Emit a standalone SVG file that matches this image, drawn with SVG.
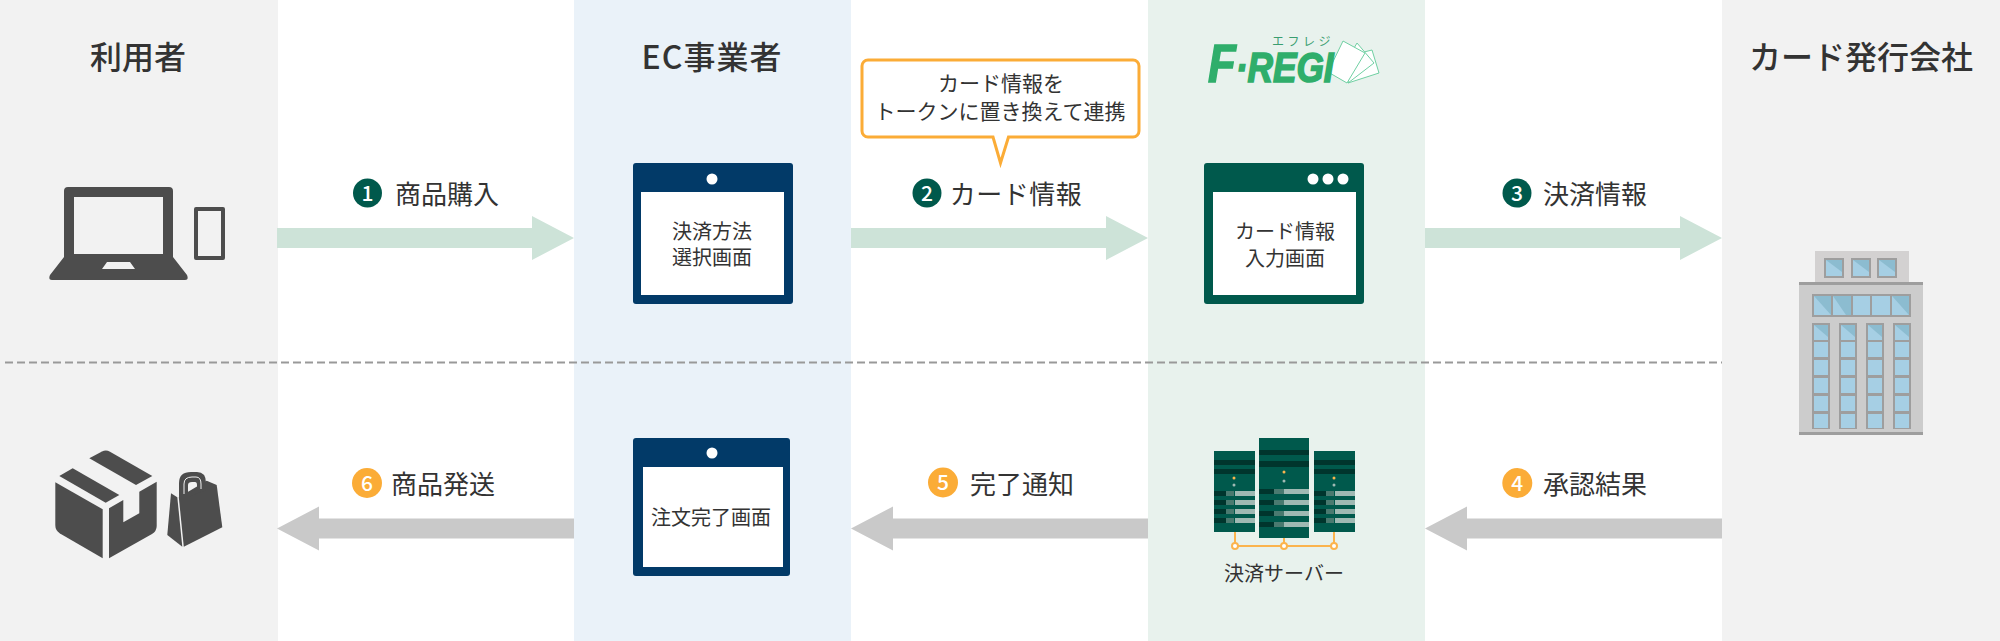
<svg xmlns="http://www.w3.org/2000/svg" width="2000" height="641" viewBox="0 0 2000 641">
<style>
text{font-family:"Noto Sans CJK JP","Noto Sans",sans-serif;fill:#333;text-anchor:middle}
.h{font-size:32px;font-weight:500}
.l{font-size:26px}
.s{font-size:20px}
.b{font-size:21px}
.n{font-size:21px;font-weight:500;fill:#fff}
.dk{fill:#4d4d4d}
.glass{fill:#a6cfe4}
.tint{fill:#8cbcd0}
.frame{fill:#9e9e9e}
.srv{fill:#00594c}
.d{fill:#00352d}
.m{fill:#4a7a70}
.li{fill:#9fb9b3}
.logo{font-family:"Liberation Sans",sans-serif;font-weight:700;font-style:italic;fill:#2fae6b;stroke:#2fae6b;stroke-width:1.600;text-anchor:start}
</style>
<defs>
<path id="ar" d="M0-10H255V-22L297 0 255 22V10H0Z"/>
</defs>
<g id="lanes">
<rect x="0" width="278" height="641" fill="#f2f2f2"/>
<rect x="574" width="277" height="641" fill="#eaf2f9"/>
<rect x="1148" width="277" height="641" fill="#e8f2ed"/>
<rect x="1722" width="278" height="641" fill="#f2f2f2"/>
<line x1="5" y1="362.500" x2="1722" y2="362.500" stroke="#999" stroke-width="2" stroke-dasharray="8 4"/>
</g>
<g id="connectors">
<g fill="#cde3d8">
<use href="#ar" x="277" y="238"/>
<use href="#ar" x="851" y="238"/>
<use href="#ar" x="1425" y="238"/>
</g>
<g fill="#c9c9c9">
<use href="#ar" transform="translate(574 528.500) scale(-1 1)"/>
<use href="#ar" transform="translate(1148 528.500) scale(-1 1)"/>
<use href="#ar" transform="translate(1722 528.500) scale(-1 1)"/>
</g>
</g>
<g id="user">
<text class="h" x="138" y="69">利用者</text>
<path class="dk" fill-rule="evenodd" d="M64 191a4 4 0 0 1 4-4H169a4 4 0 0 1 4 4V257L187 275q2 5-2 5H52q-4 0-2-5L64 257ZM74 197V254H163V197ZM107 262L102 269H135L130 262Z"/>
<path class="dk" fill-rule="evenodd" d="M194 209a2 2 0 0 1 2-2H223a2 2 0 0 1 2 2V258a2 2 0 0 1-2 2H196a2 2 0 0 1-2-2ZM198 211V256H221V211Z"/>
<g class="dk">
<path d="M89.300 458.300L102 451.500Q106 449.500 110 451.700L152.300 476 136 485Z"/>
<path d="M59.300 476L72.700 468.300 119.300 495 105.700 502.700Z"/>
<path d="M55.300 482.300L102.700 509.300V558.300L60 533.500Q55.300 530.500 55.300 525Z"/>
<path d="M109 508.300L123.300 500V522.300L139.300 513.300V491.700L156.700 481.700V526Q156.700 531 152 534L109 558.300Z"/>
<path d="M171 493.300L177.300 497.300 182.300 546.700 167.300 535Z"/>
<path d="M178.800 497.300L206.700 480.700 216.700 485 222.300 527.300 183.800 546.700Z"/>
<path fill-rule="evenodd" d="M179 497V483Q179 472 191 472H197Q206 472 206 483V490L188 497ZM188 493V485Q188 482 192 482H195Q197 482 197 485V489Z"/>
</g>
<path d="M184 494V484Q184 477 192 477H196Q201 477 201 484V489" fill="none" stroke="#f2f2f2" stroke-width="1"/>
</g>
<g id="ec">
<text class="h" x="712" y="69" style="letter-spacing:1px">EC事業者</text>
<rect x="633" y="163" width="160" height="141" rx="3" fill="#023a68"/>
<circle cx="712" cy="179" r="5.500" fill="#fff"/>
<rect x="641" y="192" width="143" height="103" fill="#fff"/>
<text class="s" x="712" y="239">決済方法</text>
<text class="s" x="712" y="265">選択画面</text>
<rect x="633" y="438" width="157" height="138" rx="3" fill="#023a68"/>
<circle cx="712" cy="453" r="5.500" fill="#fff"/>
<rect x="643" y="467" width="140" height="100" fill="#fff"/>
<text class="s" x="711" y="525">注文完了画面</text>
</g>
<g id="balloon">
<path d="M868 60H1133a6 6 0 0 1 6 6V131a6 6 0 0 1-6 6H1008.500L1000.500 163 993 137H868a6 6 0 0 1-6-6V66a6 6 0 0 1 6-6Z" fill="#fff" stroke="#fbac37" stroke-width="3"/>
<text class="b" x="1001" y="91">カード情報を</text>
<text class="b" x="1000" y="119">トークンに置き換えて連携</text>
</g>
<g id="fregi">
<g fill="#fff" stroke="#70d0a3" stroke-width="1">
<path d="M1360 53L1372 50 1379 73 1348 83Z"/>
<path d="M1350 55L1357 43 1374 63 1348 83Z"/>
<path d="M1343 41L1365 53 1347 83 1328 72Z"/>
</g>
<text class="logo" transform="translate(1208 82) scale(.84 1)"><tspan style="font-size:54px">F</tspan><tspan style="font-size:42px">·REGI</tspan></text>
<text x="1303" y="46" style="font-size:12px;letter-spacing:3.500px;fill:#3a9e70">エフレジ</text>
<rect x="1204" y="163" width="160" height="141" rx="3" fill="#00594c"/>
<circle cx="1313" cy="179" r="5.500" fill="#fff"/>
<circle cx="1328" cy="179" r="5.500" fill="#fff"/>
<circle cx="1343" cy="179" r="5.500" fill="#fff"/>
<rect x="1213" y="192" width="143" height="103" fill="#fff"/>
<text class="s" x="1285" y="239">カード情報</text>
<text class="s" x="1285" y="266">入力画面</text>
</g>
<g id="server">
<g fill="none" stroke="#fbb44e" stroke-width="2">
<path d="M1235 530V546H1334M1284 538V546M1334 530V546"/>
<circle cx="1235" cy="546" r="3" fill="#fff"/>
<circle cx="1284" cy="546" r="3" fill="#fff"/>
<circle cx="1334" cy="546" r="3" fill="#fff"/>
</g>
<rect class="srv" x="1214" y="451" width="41" height="81"/>
<rect class="srv" x="1259" y="438" width="50" height="100"/>
<rect class="srv" x="1314" y="451" width="41" height="81"/>
<g class="d">
<rect x="1214" y="460" width="41" height="5"/><rect x="1214" y="469" width="41" height="5"/>
<rect x="1259" y="450" width="50" height="5"/><rect x="1259" y="461" width="50" height="6"/>
<rect x="1314" y="460" width="41" height="5"/><rect x="1314" y="469" width="41" height="5"/>
</g>
<g id="srow">
<rect class="d" x="1214" y="491" width="12" height="5"/><rect class="m" x="1226" y="491" width="8" height="5"/><rect class="li" x="1235" y="491" width="20" height="5"/>
<rect class="d" x="1214" y="500" width="12" height="5"/><rect class="m" x="1226" y="500" width="8" height="5"/><rect class="li" x="1235" y="500" width="20" height="5"/>
<rect class="d" x="1214" y="509" width="12" height="5"/><rect class="m" x="1226" y="509" width="8" height="5"/><rect class="li" x="1235" y="509" width="20" height="5"/>
<rect class="d" x="1214" y="518" width="12" height="5"/><rect class="m" x="1226" y="518" width="8" height="5"/><rect class="li" x="1235" y="518" width="20" height="5"/>
</g>
<use href="#srow" x="100"/>
<g>
<rect class="d" x="1259" y="489" width="15" height="5"/><rect class="m" x="1274" y="489" width="10" height="5"/><rect class="li" x="1284" y="489" width="25" height="5"/>
<rect class="d" x="1259" y="500" width="15" height="5"/><rect class="m" x="1274" y="500" width="10" height="5"/><rect class="li" x="1284" y="500" width="25" height="5"/>
<rect class="d" x="1259" y="511" width="15" height="5"/><rect class="m" x="1274" y="511" width="10" height="5"/><rect class="li" x="1284" y="511" width="25" height="5"/>
<rect class="d" x="1259" y="522" width="15" height="5"/><rect class="m" x="1274" y="522" width="10" height="5"/><rect class="li" x="1284" y="522" width="25" height="5"/>
</g>
<g fill="#fbb44e"><circle cx="1234" cy="478" r="1.500"/><circle cx="1284" cy="472" r="1.500"/><circle cx="1334" cy="478" r="1.500"/></g>
<g fill="#9fb9b3"><circle cx="1234" cy="485" r="1.500"/><circle cx="1284" cy="481" r="1.500"/><circle cx="1334" cy="485" r="1.500"/></g>
<text class="s" x="1284" y="581">決済サーバー</text>
</g>
<g id="issuer">
<text class="h" x="1861" y="69">カード発行会社</text>
<rect x="1815" y="251" width="94" height="32" fill="#d3d1d1"/>
<rect x="1799" y="282" width="124" height="153" fill="#cccccc"/>
<rect class="frame" x="1799" y="282" width="124" height="3"/>
<rect class="frame" x="1799" y="432" width="124" height="3"/>
<g class="frame">
<rect x="1824" y="258" width="20" height="20"/><rect x="1851" y="258" width="20" height="20"/><rect x="1877" y="258" width="20" height="20"/>
<rect x="1812" y="294" width="99" height="23"/>
<rect x="1812" y="323" width="18" height="106"/><rect x="1839" y="323" width="18" height="106"/><rect x="1866" y="323" width="18" height="106"/><rect x="1893" y="323" width="18" height="106"/>
</g>
<g class="glass">
<rect x="1826" y="260" width="16" height="16"/><rect x="1853" y="260" width="16" height="16"/><rect x="1879" y="260" width="16" height="16"/>
<rect x="1814" y="296" width="17" height="19"/><rect x="1833" y="296" width="18" height="19"/><rect x="1853" y="296" width="17" height="19"/><rect x="1872" y="296" width="18" height="19"/><rect x="1892" y="296" width="17" height="19"/>
</g>
<g id="col" class="glass">
<rect x="1814" y="325" width="14" height="15"/><rect x="1814" y="342" width="14" height="15"/><rect x="1814" y="360" width="14" height="15"/><rect x="1814" y="378" width="14" height="15"/><rect x="1814" y="396" width="14" height="15"/><rect x="1814" y="414" width="14" height="14"/>
</g>
<use href="#col" x="27"/><use href="#col" x="54"/><use href="#col" x="81"/>
<g class="tint">
<path d="M1826 260H1842V272Z"/><path d="M1853 260H1869V272Z"/><path d="M1879 260H1895V272Z"/>
<path d="M1814 296H1831V315Z"/><path d="M1833 296H1851V315H1846Z"/><path d="M1892 296H1909V315Z"/>
<path d="M1814 325H1828V337Z"/><path d="M1841 325H1855V337Z"/><path d="M1868 325H1882V337Z"/><path d="M1895 325H1909V337Z"/>
</g>
</g>
<g id="labels">
<circle cx="367.500" cy="193" r="14.500" fill="#00594c"/><text class="n" x="367.500" y="200.500">1</text>
<text class="l" x="447" y="204">商品購入</text>
<circle cx="927" cy="193" r="14.500" fill="#00594c"/><text class="n" x="927" y="200.500">2</text>
<text class="l" x="1016" y="204" style="letter-spacing:.5px">カード情報</text>
<circle cx="1517" cy="193" r="14.500" fill="#00594c"/><text class="n" x="1517" y="200.500">3</text>
<text class="l" x="1595" y="204">決済情報</text>
<circle cx="1517.300" cy="483" r="15" fill="#fbac37"/><text class="n" x="1517.300" y="490.500">4</text>
<text class="l" x="1595" y="493.500">承認結果</text>
<circle cx="943" cy="482.500" r="15" fill="#fbac37"/><text class="n" x="943" y="490">5</text>
<text class="l" x="1022" y="493.500">完了通知</text>
<circle cx="367" cy="483" r="15" fill="#fbac37"/><text class="n" x="367" y="490.500">6</text>
<text class="l" x="443" y="493.500">商品発送</text>
</g>
</svg>
